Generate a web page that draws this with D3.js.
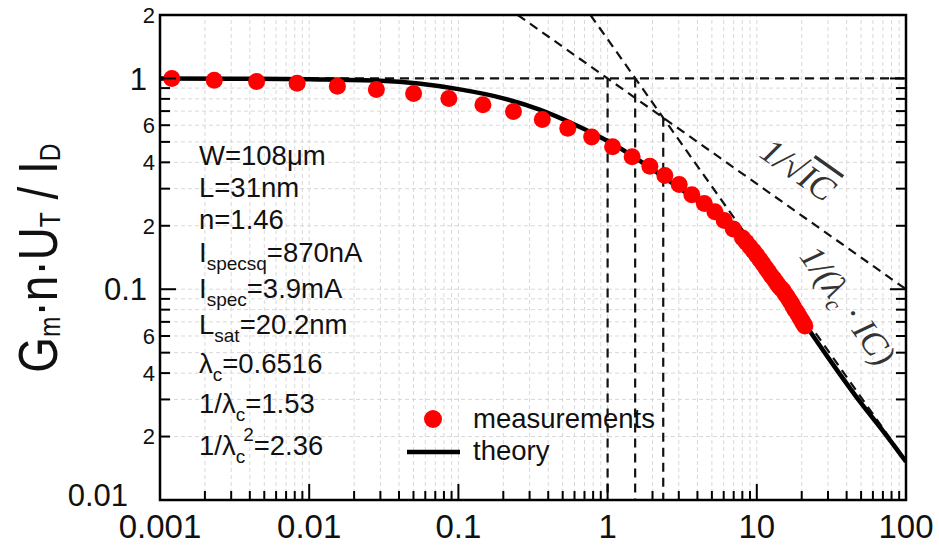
<!DOCTYPE html>
<html>
<head>
<meta charset="utf-8">
<script src="https://cdn.jsdelivr.net/npm/d3@7"></script>
<style>
  body { margin: 0; background: #fff; }
  svg text { font-family: "Liberation Sans", Arial, sans-serif; fill: #111; }
</style>
</head>
<body>
<svg id="chart" width="939" height="551"></svg>
<script>
// measured points (IC, Gm*n*UT/ID)
const measIC = [0.0012, 0.00231, 0.00444, 0.0083, 0.01545, 0.0282, 0.0501, 0.0863, 0.146, 0.234,
  0.365, 0.541, 0.782, 1.08, 1.46, 1.92, 2.42, 3.02, 3.67, 4.45, 5.24, 6.05, 6.95, 8.02,
  8.5, 9, 9.5, 10, 10.5, 11, 11.5, 12, 12.5, 13, 13.5, 14, 14.5, 15, 15.5, 16, 16.5, 17,
  17.5, 18, 18.5, 19, 19.5, 20, 20.5, 21];
const measG = [1.0, 0.981, 0.968, 0.95, 0.919, 0.887, 0.849, 0.803, 0.75, 0.697,
  0.639, 0.581, 0.528, 0.474, 0.425, 0.383, 0.346, 0.314, 0.281, 0.255, 0.233, 0.212, 0.193, 0.175,
  0.167, 0.159, 0.152, 0.145, 0.138, 0.132, 0.126, 0.121, 0.116, 0.112, 0.108, 0.104, 0.101, 0.0985, 0.095, 0.092, 0.089, 0.086,
  0.083, 0.080, 0.078, 0.0755, 0.073, 0.071, 0.069, 0.067];

// theory curve
const theoryIC = [0.001, 0.003, 0.01, 0.03, 0.1, 0.2, 0.35, 0.6, 1, 1.5, 2, 3, 5, 7, 10, 15, 20, 30, 50, 70, 100];
const theoryG = [0.999, 0.997, 0.99, 0.975, 0.89, 0.805, 0.712, 0.605, 0.505, 0.425, 0.37, 0.303, 0.233, 0.189, 0.142, 0.097, 0.072, 0.0475, 0.0288, 0.0213, 0.0152];

// asymptotes and markers (end points)
const sqrtLine = [[0.25, 2], [100, 0.1]];
const lambdaLine = [[0.7675, 2], [100, 0.01535]];
const unityLine = [[0.001, 1], [100, 1]];
const vLines = [[1, 1], [1.53, 1], [2.36, 0.6516]];

const xTickValues = [0.001, 0.01, 0.1, 1, 10, 100];
const xTickText = ["0.001", "0.01", "0.1", "1", "10", "100"];
const yTickValues = [2, 1, 0.6, 0.4, 0.2, 0.1, 0.06, 0.04, 0.02, 0.01];
const yTickText = ["2", "1", "6", "4", "2", "0.1", "6", "4", "2", "0.01"];
const yTickMajor = [false, true, false, false, false, true, false, false, false, true];

const paramLines = [
  [["W=108μm", 0]],
  [["L=31nm", 0]],
  [["n=1.46", 0]],
  [["I", 0], ["specsq", 1], ["=870nA", 0]],
  [["I", 0], ["spec", 1], ["=3.9mA", 0]],
  [["L", 0], ["sat", 1], ["=20.2nm", 0]],
  [["λ", 0], ["c", 1], ["=0.6516", 0]],
  [["1/λ", 0], ["c", 1], ["=1.53", 0]],
  [["1/λ", 0], ["c", 1], ["2", 2], ["=2.36", 0]]
];
const paramBaselines = [165, 197, 229, 262, 298, 334, 373, 413, 455];

const margin = {top: 15, right: 33, bottom: 51, left: 160};
const W = 939, H = 551;
const svg = d3.select('#chart');

const x = d3.scaleLog().domain([0.001, 100]).range([margin.left, W - margin.right]);
const y = d3.scaleLog().domain([0.01, 2]).range([H - margin.bottom, margin.top]);

svg.append('defs').append('clipPath').attr('id', 'plot-clip')
  .append('rect')
  .attr('x', margin.left).attr('y', margin.top)
  .attr('width', x.range()[1] - margin.left)
  .attr('height', y.range()[0] - margin.top);

// every minor/major tick value
let xAll = [];
for (let e = -3; e < 2; e++) for (let k = 1; k < 10; k++) xAll.push(k * Math.pow(10, e));
xAll.push(100);
let yAll = [];
for (let e = -2; e < 0; e++) for (let k = 1; k < 10; k++) yAll.push(+(k * Math.pow(10, e)).toPrecision(3));
yAll.push(1, 2);

// grid
const grid = svg.append('g').attr('stroke', '#d8d8d8').attr('stroke-width', 1).attr('stroke-dasharray', '4,3');
grid.selectAll('line.gx').data(xAll.slice(1, -1)).join('line')
  .attr('x1', d => x(d)).attr('x2', d => x(d))
  .attr('y1', y.range()[0]).attr('y2', y.range()[1]);
grid.selectAll('line.gy').data(yAll.slice(1, -1)).join('line')
  .attr('y1', d => y(d)).attr('y2', d => y(d))
  .attr('x1', x.range()[0]).attr('x2', x.range()[1]);

const plot = svg.append('g').attr('clip-path', 'url(#plot-clip)');
const line = d3.line().x(d => x(d[0])).y(d => y(d[1]));

// dashed guides
const dashed = plot.append('g').attr('fill', 'none').attr('stroke', '#111')
  .attr('stroke-width', 2.2).attr('stroke-dasharray', '9,6');
[unityLine, sqrtLine, lambdaLine].forEach(l => dashed.append('path').attr('d', line(l)));
dashed.selectAll('line.v').data(vLines).join('line')
  .attr('x1', d => x(d[0])).attr('x2', d => x(d[0]))
  .attr('y1', d => y(d[1])).attr('y2', y.range()[0]);

// theory
plot.append('path')
  .attr('d', d3.line().curve(d3.curveMonotoneX).x((d, i) => x(d)).y((d, i) => y(theoryG[i]))(theoryIC))
  .attr('fill', 'none').attr('stroke', '#000').attr('stroke-width', 4.5);

// measurements
plot.selectAll('circle.m').data(measIC).join('circle')
  .attr('cx', d => x(d)).attr('cy', (d, i) => y(measG[i]))
  .attr('r', 8.5).attr('fill', '#ff0000');

// ticks
const ticks = svg.append('g').attr('stroke', '#000').attr('stroke-width', 2);
const xMajor = new Set(xTickValues);
xAll.forEach(v => {
  const len = xMajor.has(v) ? 16 : 9;
  ticks.append('line').attr('x1', x(v)).attr('x2', x(v))
    .attr('y1', y.range()[0]).attr('y2', y.range()[0] - len);
});
const yMajorSet = new Set([1, 0.1, 0.01]);
yAll.forEach(v => {
  const len = yMajorSet.has(v) ? 16 : 10;
  ticks.append('line').attr('x1', x.range()[0]).attr('x2', x.range()[0] + len)
    .attr('y1', y(v)).attr('y2', y(v));
  ticks.append('line').attr('x1', x.range()[1]).attr('x2', x.range()[1] - len)
    .attr('y1', y(v)).attr('y2', y(v));
});

// frame
svg.append('rect')
  .attr('x', x.range()[0]).attr('y', y.range()[1])
  .attr('width', x.range()[1] - x.range()[0]).attr('height', y.range()[0] - y.range()[1])
  .attr('fill', 'none').attr('stroke', '#000').attr('stroke-width', 2.5);

// tick labels
svg.append('g').selectAll('text').data(xTickValues).join('text')
  .attr('x', d => x(d)).attr('y', H - 13)
  .attr('text-anchor', 'middle').attr('font-size', 33)
  .text((d, i) => xTickText[i]);

svg.append('g').selectAll('text').data(yTickValues).join('text')
  .attr('x', (d, i) => d === 0.01 ? 128 : (yTickMajor[i] ? 147 : 155))
  .attr('y', (d, i) => d === 0.01 ? y(d) - 5 : y(d))
  .attr('dy', '0.36em')
  .attr('text-anchor', 'end')
  .attr('font-size', (d, i) => yTickMajor[i] ? 31 : 22)
  .text((d, i) => yTickText[i]);

// y axis title (narrow lettering like the original)
const yt = svg.append('text')
  .attr('transform', 'translate(57,' + 258 + ') rotate(-90) scale(0.82,1)')
  .attr('text-anchor', 'middle').attr('font-size', 56);
yt.append('tspan').text('G');
yt.append('tspan').attr('font-size', 30).attr('dy', 3).text('m');
yt.append('tspan').attr('dy', -3).text('·n·U');
yt.append('tspan').attr('font-size', 30).attr('dy', 3).text('T');
yt.append('tspan').attr('dy', -3).text(' / I');
yt.append('tspan').attr('font-size', 30).attr('dy', 3).text('D');

// parameter block
const pb = svg.append('g');
paramLines.forEach((parts, i) => {
  const t = pb.append('text').attr('x', 199).attr('y', paramBaselines[i]).attr('font-size', 27.5);
  let level = 0;
  parts.forEach(p => {
    const target = p[1] === 1 ? 8 : (p[1] === 2 ? -14 : 0);
    const ts = t.append('tspan').attr('dy', target - level).text(p[0]);
    if (p[1] === 1) ts.attr('font-size', 19);
    if (p[1] === 2) ts.attr('font-size', 19).attr('dx', -2);
    level = target;
  });
});

// legend
const lg = svg.append('g');
lg.append('circle').attr('cx', 433).attr('cy', 419).attr('r', 9).attr('fill', '#ff0000');
lg.append('line').attr('x1', 407).attr('x2', 460).attr('y1', 452).attr('y2', 452)
  .attr('stroke', '#000').attr('stroke-width', 4.5);
lg.append('text').attr('x', 473).attr('y', 428).attr('font-size', 27.5).text('measurements');
lg.append('text').attr('x', 473).attr('y', 460).attr('font-size', 27.5).text('theory');

// asymptote annotations
const angSqrt = Math.atan2(y(sqrtLine[1][1]) - y(sqrtLine[0][1]), x(sqrtLine[1][0]) - x(sqrtLine[0][0])) * 180 / Math.PI;
const angLam = Math.atan2(y(lambdaLine[1][1]) - y(lambdaLine[0][1]), x(lambdaLine[1][0]) - x(lambdaLine[0][0])) * 180 / Math.PI;

const a1 = svg.append('text')
  .attr('transform', 'translate(' + x(19) + ',' + y(0.37) + ') rotate(' + angSqrt + ')')
  .attr('text-anchor', 'middle').attr('dy', '0.35em')
  .style('font-family', '"Liberation Serif", "DejaVu Serif", serif')
  .style('font-style', 'italic').attr('font-size', 35).style('fill', '#333');
a1.append('tspan').text('1/√');
a1.append('tspan').style('text-decoration', 'overline').text('IC');

const a2 = svg.append('text')
  .attr('transform', 'translate(' + x(41) + ',' + y(0.084) + ') rotate(' + angLam + ')')
  .attr('text-anchor', 'middle').attr('dy', '0.35em')
  .style('font-family', '"Liberation Serif", "DejaVu Serif", serif')
  .style('font-style', 'italic').attr('font-size', 35).style('fill', '#333');
a2.append('tspan').text('1/(λ');
a2.append('tspan').attr('font-size', 23).attr('dy', 7).text('c');
a2.append('tspan').attr('dy', -7).text(' · IC)');
</script>
</body>
</html>
